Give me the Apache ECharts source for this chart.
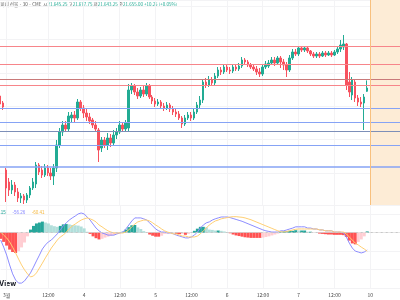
<!DOCTYPE html>
<html>
<head>
<meta charset="utf-8">
<script src="https://cdn.jsdelivr.net/npm/echarts@6/dist/echarts.min.js"></script>
<style>
    body { margin: 0; background: #fff; }
    #chart { width: 400px; height: 300px; }
</style>
</head>
<body>
<div id="chart"></div>
<script>
// 30분봉, [시가, 종가, 저가, 고가]
var candles = [
    [21631, 21607, 21595, 21652], [21610, 21598, 21589, 21616], [21409, 21355, 21313, 21415], [21373, 21349, 21331, 21385],
    [21349, 21364, 21337, 21379], [21364, 21343, 21331, 21373], [21343, 21325, 21313, 21355], [21325, 21331, 21310, 21340],
    [21331, 21319, 21307, 21337], [21319, 21334, 21310, 21340], [21334, 21355, 21325, 21361], [21355, 21373, 21349, 21385],
    [21367, 21424, 21355, 21433], [21424, 21403, 21394, 21430], [21409, 21394, 21385, 21421], [21394, 21415, 21388, 21427],
    [21415, 21400, 21391, 21424], [21400, 21391, 21379, 21415], [21391, 21415, 21364, 21427], [21415, 21484, 21403, 21499],
    [21484, 21523, 21475, 21535], [21523, 21544, 21511, 21556], [21544, 21532, 21523, 21556], [21532, 21571, 21526, 21583],
    [21565, 21574, 21553, 21583], [21574, 21565, 21553, 21586], [21565, 21613, 21559, 21622], [21613, 21595, 21586, 21619],
    [21595, 21580, 21565, 21604], [21580, 21568, 21556, 21595], [21568, 21556, 21547, 21580], [21559, 21544, 21535, 21565],
    [21544, 21532, 21523, 21556], [21529, 21469, 21433, 21535], [21475, 21499, 21463, 21508], [21499, 21484, 21475, 21508],
    [21484, 21505, 21469, 21520], [21505, 21490, 21478, 21517], [21490, 21514, 21481, 21529], [21514, 21523, 21502, 21535],
    [21523, 21544, 21517, 21556], [21544, 21532, 21526, 21550], [21532, 21550, 21526, 21559], [21535, 21649, 21526, 21667],
    [21649, 21661, 21637, 21670], [21661, 21643, 21634, 21667], [21643, 21631, 21622, 21655], [21631, 21649, 21625, 21658],
    [21649, 21637, 21628, 21661], [21637, 21661, 21631, 21670], [21661, 21628, 21622, 21667], [21628, 21616, 21607, 21634],
    [21616, 21607, 21598, 21625], [21607, 21613, 21601, 21622], [21613, 21601, 21592, 21619], [21601, 21595, 21586, 21610],
    [21595, 21604, 21589, 21613], [21604, 21592, 21583, 21610], [21592, 21583, 21574, 21601], [21583, 21577, 21568, 21592],
    [21577, 21565, 21559, 21586], [21565, 21547, 21535, 21571], [21547, 21565, 21541, 21574], [21565, 21574, 21559, 21583],
    [21574, 21565, 21556, 21583], [21565, 21583, 21559, 21595], [21583, 21604, 21577, 21613], [21604, 21619, 21595, 21631],
    [21619, 21673, 21610, 21682], [21673, 21664, 21655, 21685], [21664, 21679, 21658, 21691], [21679, 21670, 21664, 21688],
    [21670, 21691, 21664, 21700], [21691, 21709, 21685, 21718], [21709, 21703, 21694, 21718], [21703, 21718, 21697, 21727],
    [21718, 21709, 21703, 21724], [21709, 21706, 21697, 21718], [21706, 21718, 21700, 21727], [21718, 21712, 21706, 21727],
    [21712, 21721, 21706, 21730], [21721, 21739, 21715, 21748], [21739, 21733, 21727, 21745], [21733, 21724, 21718, 21739],
    [21724, 21718, 21712, 21730], [21718, 21712, 21706, 21727], [21712, 21703, 21694, 21721], [21703, 21697, 21688, 21715],
    [21697, 21718, 21691, 21727], [21718, 21727, 21712, 21736], [21721, 21730, 21715, 21739], [21730, 21739, 21724, 21748],
    [21739, 21730, 21721, 21748], [21730, 21745, 21724, 21751], [21745, 21733, 21715, 21751], [21733, 21724, 21709, 21742],
    [21724, 21709, 21688, 21733], [21709, 21745, 21703, 21754], [21745, 21763, 21739, 21772], [21763, 21757, 21751, 21772],
    [21757, 21775, 21751, 21781], [21775, 21769, 21763, 21781], [21769, 21775, 21763, 21781], [21775, 21766, 21760, 21778],
    [21766, 21757, 21751, 21769], [21757, 21751, 21745, 21763], [21751, 21757, 21745, 21763], [21757, 21751, 21745, 21763],
    [21751, 21760, 21748, 21766], [21760, 21754, 21748, 21766], [21754, 21760, 21751, 21766], [21760, 21754, 21748, 21766],
    [21754, 21763, 21751, 21769], [21763, 21772, 21757, 21781], [21772, 21784, 21763, 21799], [21778, 21787, 21769, 21814],
    [21787, 21664, 21649, 21790], [21673, 21643, 21628, 21703], [21634, 21679, 21619, 21688], [21673, 21625, 21613, 21679],
    [21625, 21613, 21601, 21634], [21613, 21607, 21598, 21628], [21610, 21628, 21529, 21637], [21645.25, 21655, 21643.25, 21677.75]
];

// MACD (12, 26, 9)
var macdLine = [
    -24, -47, -73, -105, -134, -154, -164, -164, -157, -144, -131, -112, -92, -73, -53, -40,
    -30, -24, -14, -4, 9, 22, 32, 41, 48, 54, 61, 64, 61, 51, 41, 28,
    15, 6, -1, -4, -8, -8, -8, -4, -1, 2, 12, 25, 38, 48, 48, 48,
    45, 41, 32, 22, 12, 6, 2, 2, -1, -1, -4, -8, -11, -14, -17, -17,
    -14, -8, 2, 15, 25, 32, 35, 41, 45, 48, 51, 51, 51, 49, 46, 43,
    40, 37, 33, 29, 25, 21, 17, 13, 9, 6, 4, 2, 2, 2, 6, 6,
    9, 12, 15, 19, 19, 19, 19, 15, 15, 12, 12, 9, 9, 6, 6, 6,
    2, 2, 2, -1, -14, -34, -50, -60, -63, -66, -63, -56.26
];
var signalLine = [
    2, -8, -17, -30, -47, -66, -86, -105, -121, -134, -144, -141, -131, -115, -99, -82,
    -66, -50, -37, -24, -14, -8, 2, 12, 22, 28, 35, 41, 45, 48, 45, 41,
    35, 25, 19, 12, 6, 2, -1, -1, -1, -1, 2, 9, 19, 28, 35, 38,
    41, 41, 38, 32, 25, 19, 12, 6, 2, -1, -4, -4, -8, -11, -11, -14,
    -14, -14, -11, -4, 6, 15, 25, 32, 38, 41, 45, 47, 49, 51, 52, 52,
    51, 50, 48, 45, 42, 38, 34, 30, 26, 22, 18, 14, 10, 6, 3, 2,
    4, 6, 9, 11, 12, 12, 12, 12, 12, 12, 12, 9, 9, 6, 6, 6,
    2, 2, 2, 2, -4, -14, -24, -34, -40, -47, -53, -60.41
];
var histogram = [
    -20, -30, -42, -55, -63, -66, -60, -48, -32, -12, 10, 22, 30, 33, 36, 33,
    30, 24, 21, 19, 22, 27, 28, 27, 25, 24, 23, 20, 14, 3, -4, -12,
    -18, -22, -20, -16, -13, -10, -7, -3, 0, 3, 10, 18, 24, 25, 17, 12,
    5, 0, -6, -10, -13, -13, -10, -4, -3, 0, 0, -4, -5, -4, -7, -4,
    0, 6, 13, 19, 19, 17, 10, 9, 7, 7, 6, 4, 2, -2, -6, -9,
    -11, -13, -15, -16, -17, -17, -17, -17, -16, -14, -12, -9, -6, -3, 3, 4,
    5, 6, 6, 8, 7, 7, 7, 3, 3, 0, 0, -3, -4, -5, -6, -6,
    -7, -7, -7, -8, -14, -26, -35, -38, -30, -22, -12, 4.15
];

var barCount = 135;
var tickIndex = [2, 16, 28, 40, 52, 64, 76, 88, 100, 112, 124];
var tickLabels = ['3월', '12:00', '4', '12:00', '5', '12:00', '6', '12:00', '7', '12:00', '10'];

// 수평선 (가격)
var resistanceLevels = [21781, 21727, 21682, 21664];
var supportLevels = [21595, 21553, 21526, 21484, 21418];
var sessionStart = 124;

var app = (function () {
    var categories = [];
    for (var i = 0; i < barCount; i++) {
        categories.push(String(i));
    }

    var isTick = function (index) {
        return tickIndex.indexOf(index) >= 0;
    };

    var histColor = function (value, index) {
        var prev = index > 0 ? histogram[index - 1] : value;
        if (value >= 0) {
            return value >= prev ? '#26a69a' : '#b2dfdb';
        }
        return value <= prev ? '#ff5252' : '#ffcdd2';
    };

    var levelLines = function () {
        var lines = [];
        resistanceLevels.forEach(function (v, i) {
            lines.push({ yAxis: v, lineStyle: { color: i == 2 ? '#c97a7a' : '#f7858a', width: 1, type: 'solid' } });
        });
        supportLevels.forEach(function (v, i) {
            lines.push({ yAxis: v, lineStyle: { color: i == 2 ? '#7d8fb8' : '#86a3f5', width: i == 4 ? 1.6 : 1, type: 'solid' } });
        });
        lines.push({ xAxis: String(sessionStart), lineStyle: { color: '#f8c07e', width: 1, type: 'solid' } });
        return lines;
    };

    var initChart = function () {
        var myChart = echarts.init(document.getElementById('chart'));
        var gridLine = { lineStyle: { color: '#f3f3f5', width: 1 } };
        var option = {
            animation: false,
            backgroundColor: '#ffffff',
            grid: [
                { left: 0, right: -2, top: 0, height: 205 },
                { left: 0, right: -2, top: 205, height: 83 }
            ],
            xAxis: [{
                type: 'category',
                gridIndex: 0,
                data: categories,
                boundaryGap: false,
                axisLine: { show: false },
                axisTick: { show: false },
                axisLabel: { show: false },
                splitLine: { show: true, interval: isTick, lineStyle: gridLine.lineStyle }
            }, {
                type: 'category',
                gridIndex: 1,
                data: categories,
                boundaryGap: false,
                axisLine: { show: true, lineStyle: { color: '#e6e6e6' } },
                axisTick: { show: false },
                axisLabel: {
                    interval: isTick,
                    formatter: function (value, index) {
                        var j = tickIndex.indexOf(index);
                        return j >= 0 ? tickLabels[j] : '';
                    },
                    color: '#444',
                    fontSize: 5,
                    margin: 5,
                    fontFamily: 'Noto Sans CJK KR'
                },
                splitLine: { show: true, interval: isTick, lineStyle: gridLine.lineStyle }
            }],
            yAxis: [{
                gridIndex: 0,
                min: 21304,
                max: 21919,
                axisLine: { show: false },
                axisTick: { show: false },
                axisLabel: { show: false },
                splitLine: gridLine
            }, {
                gridIndex: 1,
                min: -180,
                max: 90,
                interval: 60,
                axisLine: { show: false },
                axisTick: { show: false },
                axisLabel: { show: false },
                splitLine: gridLine
            }],
            graphic: [{
                type: 'text',
                left: -1,
                top: 2,
                style: {
                    text: '(미니 선물 · 30 · CME  {k|시}{v|21,645.25} {k|고}{v|21,677.75} {k|저}{v|21,643.25} {k|종}{v|21,655.00} {v|+10.25 (+0.05%)}',
                    fontSize: 4.5,
                    fontFamily: 'Noto Sans CJK KR',
                    fill: '#555',
                    rich: {
                        k: { fontSize: 4.5, fill: '#555', fontFamily: 'Noto Sans CJK KR' },
                        v: { fontSize: 4.5, fill: '#22ab94', fontFamily: 'Noto Sans CJK KR' }
                    }
                }
            }, {
                type: 'text',
                left: -3,
                top: 207,
                style: {
                    text: '{h|4.15}  {m|-56.26}  {s|-60.41}',
                    rich: {
                        h: { fontSize: 4.5, fill: '#26a69a' },
                        m: { fontSize: 4.5, fill: '#8c8cff' },
                        s: { fontSize: 4.5, fill: '#f5b942' }
                    }
                }
            }, {
                type: 'text',
                left: -1,
                top: 280,
                style: {
                    text: 'View',
                    fontSize: 7,
                    fontWeight: 'bold',
                    fontFamily: 'Inter',
                    fill: '#131722'
                }
            }],
            series: [{
                type: 'candlestick',
                xAxisIndex: 0,
                yAxisIndex: 0,
                data: candles,
                barWidth: 2,
                itemStyle: {
                    color: '#22ab94',
                    color0: '#f7525f',
                    borderColor: '#22ab94',
                    borderColor0: '#f7525f',
                    borderWidth: 1
                },
                markArea: {
                    silent: true,
                    itemStyle: { color: '#fdecd6' },
                    data: [[{ xAxis: String(sessionStart) }, { xAxis: String(barCount - 1) }]]
                },
                markLine: {
                    silent: true,
                    symbol: 'none',
                    label: { show: false },
                    animation: false,
                    data: levelLines()
                }
            }, {
                type: 'bar',
                xAxisIndex: 1,
                yAxisIndex: 1,
                barWidth: 3,
                data: histogram.map(function (v, i) {
                    return { value: v, itemStyle: { color: histColor(v, i) } };
                }),
                markLine: {
                    silent: true,
                    symbol: 'none',
                    label: { show: false },
                    lineStyle: { color: '#c8c8c8', type: [2, 3], width: 1 },
                    data: [{ yAxis: 0 }]
                }
            }, {
                type: 'line',
                xAxisIndex: 1,
                yAxisIndex: 1,
                data: macdLine,
                symbol: 'none',
                lineStyle: { color: '#8c8cff', width: 1 }
            }, {
                type: 'line',
                xAxisIndex: 1,
                yAxisIndex: 1,
                data: signalLine,
                symbol: 'none',
                lineStyle: { color: '#ffcf73', width: 1 }
            }]
        };
        myChart.setOption(option);
    };

    return {
        init: initChart
    };
})();

app.init();
</script>
</body>
</html>
